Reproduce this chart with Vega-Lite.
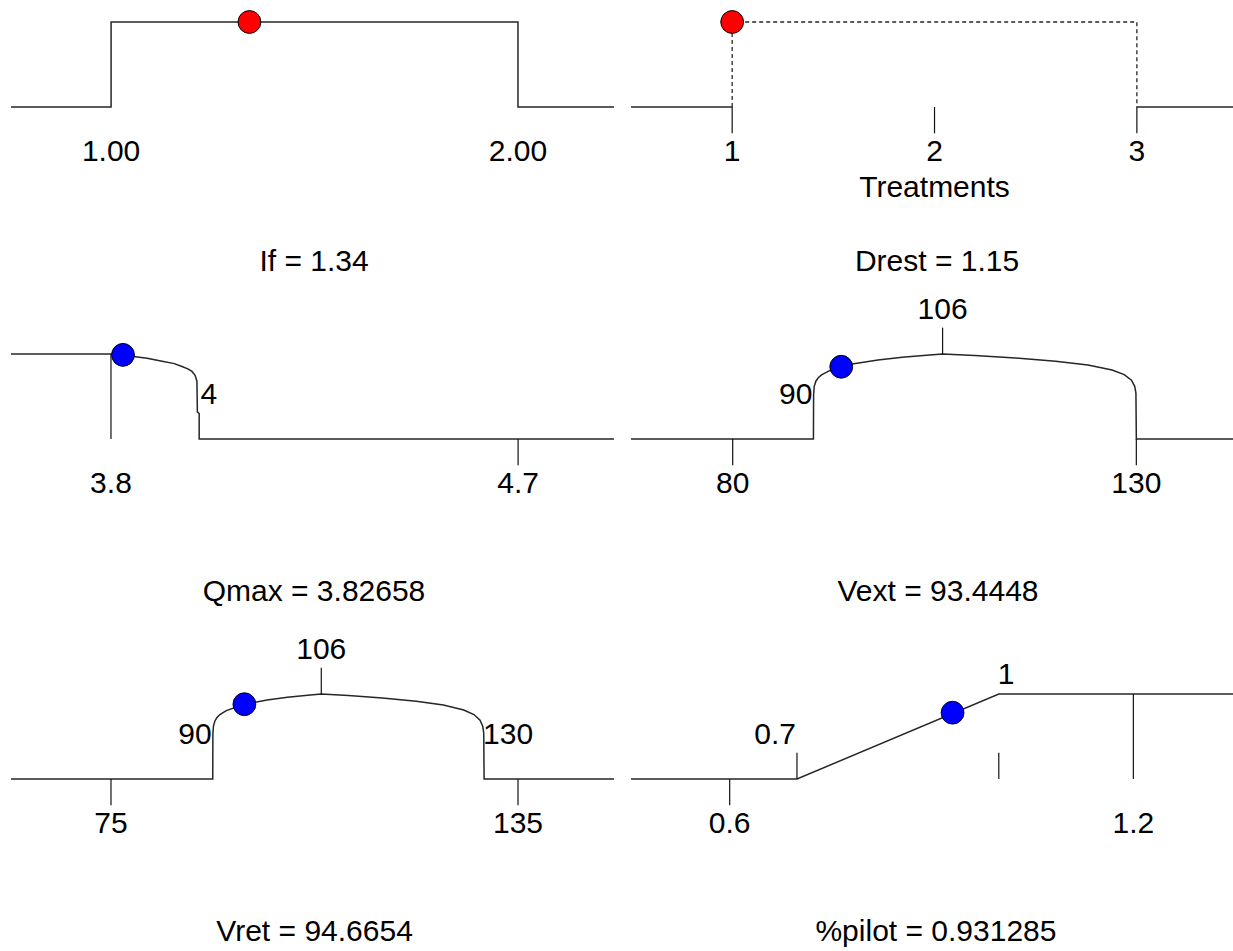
{
  "$schema": "https://vega.github.io/schema/vega-lite/v6.json",
  "padding": {"left": 8, "top": 0, "right": 0, "bottom": 0},
  "background": "white",
  "config": {
    "view": {"stroke": null},
    "axis": {"disable": true},
    "text": {"font": "Liberation Sans", "fontSize": 30, "color": "black", "baseline": "alphabetic"},
    "line": {"stroke": "#262626", "strokeWidth": 1.5},
    "rule": {"stroke": "#111111", "strokeWidth": 1.2}
  },
  "spacing": 0,
  "vconcat": [
    {
      "spacing": 17,
      "bounds": "flush",
      "hconcat": [
        {
          "width": 603, "height": 285,
          "data": {"values": [
            {"k": "line", "seg": "a", "i": 1, "x": 0.754, "d": 0},
            {"k": "line", "seg": "a", "i": 2, "x": 1, "d": 0},
            {"k": "line", "seg": "a", "i": 3, "x": 1, "d": 1},
            {"k": "line", "seg": "a", "i": 4, "x": 2, "d": 1},
            {"k": "line", "seg": "a", "i": 5, "x": 2, "d": 0},
            {"k": "line", "seg": "a", "i": 6, "x": 2.236, "d": 0},
            {"k": "point", "x": 1.34, "d": 1, "vt": "factor"},
            {"k": "below", "x": 1, "label": "1.00"},
            {"k": "below", "x": 2, "label": "2.00"},
            {"k": "title", "label": "If = 1.34"}
          ]},
          "layer": [
            {"transform": [{"filter": "datum.k === 'line'"}], "mark": {"type": "line"},
             "encoding": {"x": {"field": "x", "type": "quantitative", "axis": null, "scale": {"domain": [0.754, 2.236], "nice": false, "zero": false}},
                          "y": {"field": "d", "type": "quantitative", "axis": null, "scale": {"domain": [-2.0941, 1.2588], "nice": false, "zero": false}}, "detail": {"field": "seg"}, "order": {"field": "i", "type": "quantitative"}}},
            {"transform": [{"filter": "datum.k === 'below'"}], "mark": {"type": "text", "align": "center"},
             "encoding": {"x": {"field": "x", "type": "quantitative", "axis": null}, "y": {"datum": -0.64, "axis": null}, "text": {"field": "label"}}},
            {"transform": [{"filter": "datum.k === 'title'"}], "mark": {"type": "text", "align": "center"},
             "encoding": {"x": {"datum": 1.4987, "axis": null}, "y": {"datum": -1.93, "axis": null}, "text": {"field": "label"}}},
            {"transform": [{"filter": "datum.k === 'point'"}], "mark": {"type": "point", "shape": "circle", "filled": true, "size": 520, "stroke": "black", "strokeWidth": 1, "opacity": 1},
             "encoding": {"x": {"field": "x", "type": "quantitative", "axis": null}, "y": {"field": "d", "type": "quantitative", "axis": null}, "fill": {"field": "vt", "type": "nominal", "scale": {"domain": ["factor", "response"], "range": ["#ff0000", "#0000ff"]}, "legend": null}}}
          ]
        },
        {
          "width": 603, "height": 285,
          "data": {"values": [
            {"k": "line", "seg": "a", "i": 1, "x": 0.5, "d": 0},
            {"k": "line", "seg": "a", "i": 2, "x": 1, "d": 0},
            {"k": "line", "seg": "b", "i": 1, "x": 3, "d": 0},
            {"k": "line", "seg": "b", "i": 2, "x": 3.48, "d": 0},
            {"k": "dash", "seg": "c", "i": 1, "x": 1, "d": 0},
            {"k": "dash", "seg": "c", "i": 2, "x": 1, "d": 1},
            {"k": "dash", "seg": "c", "i": 3, "x": 3, "d": 1},
            {"k": "dash", "seg": "c", "i": 4, "x": 3, "d": 0},
            {"k": "tick_down", "x": 1},
            {"k": "tick_down", "x": 2},
            {"k": "tick_down", "x": 3},
            {"k": "below", "x": 1, "label": "1"},
            {"k": "below", "x": 2, "label": "2"},
            {"k": "below", "x": 3, "label": "3"},
            {"k": "xlab", "x": 2, "label": "Treatments"},
            {"k": "point", "x": 1, "d": 1, "vt": "factor"},
            {"k": "title", "label": "Drest = 1.15"}
          ]},
          "layer": [
            {"transform": [{"filter": "datum.k === 'line'"}], "mark": {"type": "line"},
             "encoding": {"x": {"field": "x", "type": "quantitative", "axis": null, "scale": {"domain": [0.5, 3.48], "nice": false, "zero": false}},
                          "y": {"field": "d", "type": "quantitative", "axis": null, "scale": {"domain": [-2.0941, 1.2588], "nice": false, "zero": false}}, "detail": {"field": "seg"}, "order": {"field": "i", "type": "quantitative"}}},
            {"transform": [{"filter": "datum.k === 'dash'"}], "mark": {"type": "line", "strokeWidth": 1.3, "strokeDash": [4, 3]},
             "encoding": {"x": {"field": "x", "type": "quantitative", "axis": null}, "y": {"field": "d", "type": "quantitative", "axis": null}, "detail": {"field": "seg"}, "order": {"field": "i", "type": "quantitative"}}},
            {"transform": [{"filter": "datum.k === 'tick_down'"}], "mark": {"type": "rule"},
             "encoding": {"x": {"field": "x", "type": "quantitative", "axis": null}, "y": {"datum": 0, "axis": null}, "y2": {"datum": -0.31}}},
            {"transform": [{"filter": "datum.k === 'below'"}], "mark": {"type": "text", "align": "center"},
             "encoding": {"x": {"field": "x", "type": "quantitative", "axis": null}, "y": {"datum": -0.64, "axis": null}, "text": {"field": "label"}}},
            {"transform": [{"filter": "datum.k === 'xlab'"}], "mark": {"type": "text", "align": "center"},
             "encoding": {"x": {"field": "x", "type": "quantitative", "axis": null}, "y": {"datum": -1.06, "axis": null}, "text": {"field": "label"}}},
            {"transform": [{"filter": "datum.k === 'title'"}], "mark": {"type": "text", "align": "center"},
             "encoding": {"x": {"datum": 2.0126, "axis": null}, "y": {"datum": -1.93, "axis": null}, "text": {"field": "label"}}},
            {"transform": [{"filter": "datum.k === 'point'"}], "mark": {"type": "point", "shape": "circle", "filled": true, "size": 520, "stroke": "black", "strokeWidth": 1, "opacity": 1},
             "encoding": {"x": {"field": "x", "type": "quantitative", "axis": null}, "y": {"field": "d", "type": "quantitative", "axis": null}, "fill": {"field": "vt", "type": "nominal", "scale": {"domain": ["factor", "response"], "range": ["#ff0000", "#0000ff"]}, "legend": null}}}
          ]
        }
      ]
    },
    {
      "spacing": 17,
      "bounds": "flush",
      "hconcat": [
        {
          "width": 603, "height": 335,
          "data": {"values": [
            {"k": "line", "seg": "a", "i": 1, "x": 3.579, "d": 1},
            {"k": "line", "seg": "a", "i": 2, "x": 3.8, "d": 1},
            {"k": "line", "seg": "a", "i": 3, "x": 3.826, "d": 0.986},
            {"k": "line", "seg": "a", "i": 4, "x": 3.854, "d": 0.968},
            {"k": "line", "seg": "a", "i": 5, "x": 3.88, "d": 0.95},
            {"k": "line", "seg": "a", "i": 6, "x": 3.913, "d": 0.915},
            {"k": "line", "seg": "a", "i": 7, "x": 3.94, "d": 0.887},
            {"k": "line", "seg": "a", "i": 8, "x": 3.957, "d": 0.853},
            {"k": "line", "seg": "a", "i": 9, "x": 3.97, "d": 0.825},
            {"k": "line", "seg": "a", "i": 10, "x": 3.979, "d": 0.795},
            {"k": "line", "seg": "a", "i": 11, "x": 3.986, "d": 0.75},
            {"k": "line", "seg": "a", "i": 12, "x": 3.99, "d": 0.68},
            {"k": "line", "seg": "a", "i": 13, "x": 3.991, "d": 0.32},
            {"k": "line", "seg": "a", "i": 14, "x": 3.995, "d": 0.3},
            {"k": "line", "seg": "a", "i": 15, "x": 3.995, "d": 0},
            {"k": "line", "seg": "a", "i": 16, "x": 4.912, "d": 0},
            {"k": "tick_full", "x": 3.8},
            {"k": "tick_down", "x": 4.7},
            {"k": "below", "x": 3.8, "label": "3.8"},
            {"k": "below", "x": 4.7, "label": "4.7"},
            {"k": "right", "x": 4, "label": "4"},
            {"k": "point", "x": 3.82658, "d": 0.99, "vt": "response"},
            {"k": "title", "label": "Qmax = 3.82658"}
          ]},
          "layer": [
            {"transform": [{"filter": "datum.k === 'line'"}], "mark": {"type": "line"},
             "encoding": {"x": {"field": "x", "type": "quantitative", "axis": null, "scale": {"domain": [3.579, 4.912], "nice": false, "zero": false}},
                          "y": {"field": "d", "type": "quantitative", "axis": null, "scale": {"domain": [-2.1294, 1.8118], "nice": false, "zero": false}}, "detail": {"field": "seg"}, "order": {"field": "i", "type": "quantitative"}}},
            {"transform": [{"filter": "datum.k === 'tick_full'"}], "mark": {"type": "rule"},
             "encoding": {"x": {"field": "x", "type": "quantitative", "axis": null}, "y": {"datum": 1, "axis": null}, "y2": {"datum": 0}}},
            {"transform": [{"filter": "datum.k === 'tick_down'"}], "mark": {"type": "rule"},
             "encoding": {"x": {"field": "x", "type": "quantitative", "axis": null}, "y": {"datum": 0, "axis": null}, "y2": {"datum": -0.31}}},
            {"transform": [{"filter": "datum.k === 'below'"}], "mark": {"type": "text", "align": "center"},
             "encoding": {"x": {"field": "x", "type": "quantitative", "axis": null}, "y": {"datum": -0.64, "axis": null}, "text": {"field": "label"}}},
            {"transform": [{"filter": "datum.k === 'right'"}], "mark": {"type": "text", "align": "left", "dx": -1},
             "encoding": {"x": {"field": "x", "type": "quantitative", "axis": null}, "y": {"datum": 0.41, "axis": null}, "text": {"field": "label"}}},
            {"transform": [{"filter": "datum.k === 'title'"}], "mark": {"type": "text", "align": "center"},
             "encoding": {"x": {"datum": 4.2488, "axis": null}, "y": {"datum": -1.91, "axis": null}, "text": {"field": "label"}}},
            {"transform": [{"filter": "datum.k === 'point'"}], "mark": {"type": "point", "shape": "circle", "filled": true, "size": 520, "stroke": "black", "strokeWidth": 1, "opacity": 1},
             "encoding": {"x": {"field": "x", "type": "quantitative", "axis": null}, "y": {"field": "d", "type": "quantitative", "axis": null}, "fill": {"field": "vt", "type": "nominal", "scale": {"domain": ["factor", "response"], "range": ["#ff0000", "#0000ff"]}, "legend": null}}}
          ]
        },
        {
          "width": 603, "height": 335,
          "data": {"values": [
            {"k": "line", "seg": "a", "i": 1, "x": 67.4, "d": 0},
            {"k": "line", "seg": "a", "i": 2, "x": 90, "d": 0},
            {"k": "line", "seg": "a", "i": 3, "x": 90.02, "d": 0.52},
            {"k": "line", "seg": "a", "i": 4, "x": 90.1, "d": 0.62},
            {"k": "line", "seg": "a", "i": 5, "x": 90.3, "d": 0.68},
            {"k": "line", "seg": "a", "i": 6, "x": 90.6, "d": 0.72},
            {"k": "line", "seg": "a", "i": 7, "x": 91, "d": 0.755},
            {"k": "line", "seg": "a", "i": 8, "x": 92, "d": 0.805},
            {"k": "line", "seg": "a", "i": 9, "x": 93.4448, "d": 0.85},
            {"k": "line", "seg": "a", "i": 10, "x": 95, "d": 0.885},
            {"k": "line", "seg": "a", "i": 11, "x": 98, "d": 0.93},
            {"k": "line", "seg": "a", "i": 12, "x": 101, "d": 0.962},
            {"k": "line", "seg": "a", "i": 13, "x": 104, "d": 0.986},
            {"k": "line", "seg": "a", "i": 14, "x": 106, "d": 1},
            {"k": "line", "seg": "a", "i": 15, "x": 110, "d": 0.982},
            {"k": "line", "seg": "a", "i": 16, "x": 115, "d": 0.954},
            {"k": "line", "seg": "a", "i": 17, "x": 120, "d": 0.916},
            {"k": "line", "seg": "a", "i": 18, "x": 124, "d": 0.871},
            {"k": "line", "seg": "a", "i": 19, "x": 127, "d": 0.812},
            {"k": "line", "seg": "a", "i": 20, "x": 128.5, "d": 0.758},
            {"k": "line", "seg": "a", "i": 21, "x": 129.4, "d": 0.692},
            {"k": "line", "seg": "a", "i": 22, "x": 129.8, "d": 0.62},
            {"k": "line", "seg": "a", "i": 23, "x": 129.95, "d": 0.54},
            {"k": "line", "seg": "a", "i": 24, "x": 130, "d": 0},
            {"k": "line", "seg": "a", "i": 25, "x": 142.1, "d": 0},
            {"k": "tick_down", "x": 80},
            {"k": "tick_top", "x": 106},
            {"k": "tick_down", "x": 130},
            {"k": "below", "x": 80, "label": "80"},
            {"k": "below", "x": 130, "label": "130"},
            {"k": "left", "x": 90, "label": "90"},
            {"k": "top", "x": 106, "label": "106"},
            {"k": "point", "x": 93.4448, "d": 0.85, "vt": "response"},
            {"k": "title", "label": "Vext = 93.4448"}
          ]},
          "layer": [
            {"transform": [{"filter": "datum.k === 'line'"}], "mark": {"type": "line"},
             "encoding": {"x": {"field": "x", "type": "quantitative", "axis": null, "scale": {"domain": [67.4, 142.1], "nice": false, "zero": false}},
                          "y": {"field": "d", "type": "quantitative", "axis": null, "scale": {"domain": [-2.1294, 1.8118], "nice": false, "zero": false}}, "detail": {"field": "seg"}, "order": {"field": "i", "type": "quantitative"}}},
            {"transform": [{"filter": "datum.k === 'tick_down'"}], "mark": {"type": "rule"},
             "encoding": {"x": {"field": "x", "type": "quantitative", "axis": null}, "y": {"datum": 0, "axis": null}, "y2": {"datum": -0.31}}},
            {"transform": [{"filter": "datum.k === 'tick_top'"}], "mark": {"type": "rule"},
             "encoding": {"x": {"field": "x", "type": "quantitative", "axis": null}, "y": {"datum": 1, "axis": null}, "y2": {"datum": 1.31}}},
            {"transform": [{"filter": "datum.k === 'below'"}], "mark": {"type": "text", "align": "center"},
             "encoding": {"x": {"field": "x", "type": "quantitative", "axis": null}, "y": {"datum": -0.64, "axis": null}, "text": {"field": "label"}}},
            {"transform": [{"filter": "datum.k === 'left'"}], "mark": {"type": "text", "align": "right", "dx": -1},
             "encoding": {"x": {"field": "x", "type": "quantitative", "axis": null}, "y": {"datum": 0.41, "axis": null}, "text": {"field": "label"}}},
            {"transform": [{"filter": "datum.k === 'top'"}], "mark": {"type": "text", "align": "center"},
             "encoding": {"x": {"field": "x", "type": "quantitative", "axis": null}, "y": {"datum": 1.41, "axis": null}, "text": {"field": "label"}}},
            {"transform": [{"filter": "datum.k === 'title'"}], "mark": {"type": "text", "align": "center"},
             "encoding": {"x": {"datum": 105.43, "axis": null}, "y": {"datum": -1.91, "axis": null}, "text": {"field": "label"}}},
            {"transform": [{"filter": "datum.k === 'point'"}], "mark": {"type": "point", "shape": "circle", "filled": true, "size": 520, "stroke": "black", "strokeWidth": 1, "opacity": 1},
             "encoding": {"x": {"field": "x", "type": "quantitative", "axis": null}, "y": {"field": "d", "type": "quantitative", "axis": null}, "fill": {"field": "vt", "type": "nominal", "scale": {"domain": ["factor", "response"], "range": ["#ff0000", "#0000ff"]}, "legend": null}}}
          ]
        }
      ]
    },
    {
      "spacing": 17,
      "bounds": "flush",
      "hconcat": [
        {
          "width": 603, "height": 331,
          "data": {"values": [
            {"k": "line", "seg": "a", "i": 1, "x": 60.26, "d": 0},
            {"k": "line", "seg": "a", "i": 2, "x": 90, "d": 0},
            {"k": "line", "seg": "a", "i": 3, "x": 90.02, "d": 0.52},
            {"k": "line", "seg": "a", "i": 4, "x": 90.1, "d": 0.62},
            {"k": "line", "seg": "a", "i": 5, "x": 90.3, "d": 0.68},
            {"k": "line", "seg": "a", "i": 6, "x": 90.6, "d": 0.72},
            {"k": "line", "seg": "a", "i": 7, "x": 91, "d": 0.755},
            {"k": "line", "seg": "a", "i": 8, "x": 92, "d": 0.805},
            {"k": "line", "seg": "a", "i": 9, "x": 94.6654, "d": 0.88},
            {"k": "line", "seg": "a", "i": 10, "x": 98, "d": 0.93},
            {"k": "line", "seg": "a", "i": 11, "x": 101, "d": 0.962},
            {"k": "line", "seg": "a", "i": 12, "x": 104, "d": 0.986},
            {"k": "line", "seg": "a", "i": 13, "x": 106, "d": 1},
            {"k": "line", "seg": "a", "i": 14, "x": 110, "d": 0.982},
            {"k": "line", "seg": "a", "i": 15, "x": 115, "d": 0.954},
            {"k": "line", "seg": "a", "i": 16, "x": 120, "d": 0.916},
            {"k": "line", "seg": "a", "i": 17, "x": 124, "d": 0.871},
            {"k": "line", "seg": "a", "i": 18, "x": 127, "d": 0.812},
            {"k": "line", "seg": "a", "i": 19, "x": 128.5, "d": 0.758},
            {"k": "line", "seg": "a", "i": 20, "x": 129.4, "d": 0.692},
            {"k": "line", "seg": "a", "i": 21, "x": 129.8, "d": 0.62},
            {"k": "line", "seg": "a", "i": 22, "x": 129.95, "d": 0.54},
            {"k": "line", "seg": "a", "i": 23, "x": 130, "d": 0},
            {"k": "line", "seg": "a", "i": 24, "x": 149.15, "d": 0},
            {"k": "tick_down", "x": 75},
            {"k": "tick_top", "x": 106},
            {"k": "tick_down", "x": 135},
            {"k": "below", "x": 75, "label": "75"},
            {"k": "below", "x": 135, "label": "135"},
            {"k": "left", "x": 90, "label": "90"},
            {"k": "right", "x": 130, "label": "130"},
            {"k": "top", "x": 106, "label": "106"},
            {"k": "point", "x": 94.6654, "d": 0.88, "vt": "response"},
            {"k": "title", "label": "Vret = 94.6654"}
          ]},
          "layer": [
            {"transform": [{"filter": "datum.k === 'line'"}], "mark": {"type": "line"},
             "encoding": {"x": {"field": "x", "type": "quantitative", "axis": null, "scale": {"domain": [60.26, 149.15], "nice": false, "zero": false}},
                          "y": {"field": "d", "type": "quantitative", "axis": null, "scale": {"domain": [-2.0235, 1.8706], "nice": false, "zero": false}}, "detail": {"field": "seg"}, "order": {"field": "i", "type": "quantitative"}}},
            {"transform": [{"filter": "datum.k === 'tick_down'"}], "mark": {"type": "rule"},
             "encoding": {"x": {"field": "x", "type": "quantitative", "axis": null}, "y": {"datum": 0, "axis": null}, "y2": {"datum": -0.31}}},
            {"transform": [{"filter": "datum.k === 'tick_top'"}], "mark": {"type": "rule"},
             "encoding": {"x": {"field": "x", "type": "quantitative", "axis": null}, "y": {"datum": 1, "axis": null}, "y2": {"datum": 1.31}}},
            {"transform": [{"filter": "datum.k === 'below'"}], "mark": {"type": "text", "align": "center"},
             "encoding": {"x": {"field": "x", "type": "quantitative", "axis": null}, "y": {"datum": -0.64, "axis": null}, "text": {"field": "label"}}},
            {"transform": [{"filter": "datum.k === 'left'"}], "mark": {"type": "text", "align": "right", "dx": -1},
             "encoding": {"x": {"field": "x", "type": "quantitative", "axis": null}, "y": {"datum": 0.41, "axis": null}, "text": {"field": "label"}}},
            {"transform": [{"filter": "datum.k === 'right'"}], "mark": {"type": "text", "align": "left", "dx": -1},
             "encoding": {"x": {"field": "x", "type": "quantitative", "axis": null}, "y": {"datum": 0.41, "axis": null}, "text": {"field": "label"}}},
            {"transform": [{"filter": "datum.k === 'top'"}], "mark": {"type": "text", "align": "center"},
             "encoding": {"x": {"field": "x", "type": "quantitative", "axis": null}, "y": {"datum": 1.41, "axis": null}, "text": {"field": "label"}}},
            {"transform": [{"filter": "datum.k === 'title'"}], "mark": {"type": "text", "align": "center"},
             "encoding": {"x": {"datum": 105.01, "axis": null}, "y": {"datum": -1.91, "axis": null}, "text": {"field": "label"}}},
            {"transform": [{"filter": "datum.k === 'point'"}], "mark": {"type": "point", "shape": "circle", "filled": true, "size": 520, "stroke": "black", "strokeWidth": 1, "opacity": 1},
             "encoding": {"x": {"field": "x", "type": "quantitative", "axis": null}, "y": {"field": "d", "type": "quantitative", "axis": null}, "fill": {"field": "vt", "type": "nominal", "scale": {"domain": ["factor", "response"], "range": ["#ff0000", "#0000ff"]}, "legend": null}}}
          ]
        },
        {
          "width": 603, "height": 331,
          "data": {"values": [
            {"k": "line", "seg": "a", "i": 1, "x": 0.4533, "d": 0},
            {"k": "line", "seg": "a", "i": 2, "x": 0.7, "d": 0},
            {"k": "line", "seg": "a", "i": 3, "x": 1, "d": 1},
            {"k": "line", "seg": "a", "i": 4, "x": 1.3496, "d": 1},
            {"k": "tick_down", "x": 0.6},
            {"k": "tick_up", "x": 0.7},
            {"k": "tick_up", "x": 1},
            {"k": "tick_full", "x": 1.2},
            {"k": "below", "x": 0.6, "label": "0.6"},
            {"k": "below", "x": 1.2, "label": "1.2"},
            {"k": "left", "x": 0.7, "label": "0.7"},
            {"k": "topright", "x": 1, "label": "1"},
            {"k": "point", "x": 0.931285, "d": 0.78, "vt": "response"},
            {"k": "title", "label": "%pilot = 0.931285"}
          ]},
          "layer": [
            {"transform": [{"filter": "datum.k === 'line'"}], "mark": {"type": "line"},
             "encoding": {"x": {"field": "x", "type": "quantitative", "axis": null, "scale": {"domain": [0.4533, 1.3496], "nice": false, "zero": false}},
                          "y": {"field": "d", "type": "quantitative", "axis": null, "scale": {"domain": [-2.0235, 1.8706], "nice": false, "zero": false}}, "detail": {"field": "seg"}, "order": {"field": "i", "type": "quantitative"}}},
            {"transform": [{"filter": "datum.k === 'tick_down'"}], "mark": {"type": "rule"},
             "encoding": {"x": {"field": "x", "type": "quantitative", "axis": null}, "y": {"datum": 0, "axis": null}, "y2": {"datum": -0.31}}},
            {"transform": [{"filter": "datum.k === 'tick_up'"}], "mark": {"type": "rule"},
             "encoding": {"x": {"field": "x", "type": "quantitative", "axis": null}, "y": {"datum": 0, "axis": null}, "y2": {"datum": 0.31}}},
            {"transform": [{"filter": "datum.k === 'tick_full'"}], "mark": {"type": "rule"},
             "encoding": {"x": {"field": "x", "type": "quantitative", "axis": null}, "y": {"datum": 1, "axis": null}, "y2": {"datum": 0}}},
            {"transform": [{"filter": "datum.k === 'below'"}], "mark": {"type": "text", "align": "center"},
             "encoding": {"x": {"field": "x", "type": "quantitative", "axis": null}, "y": {"datum": -0.64, "axis": null}, "text": {"field": "label"}}},
            {"transform": [{"filter": "datum.k === 'left'"}], "mark": {"type": "text", "align": "right", "dx": -1},
             "encoding": {"x": {"field": "x", "type": "quantitative", "axis": null}, "y": {"datum": 0.41, "axis": null}, "text": {"field": "label"}}},
            {"transform": [{"filter": "datum.k === 'topright'"}], "mark": {"type": "text", "align": "left", "dx": -1},
             "encoding": {"x": {"field": "x", "type": "quantitative", "axis": null}, "y": {"datum": 1.12, "axis": null}, "text": {"field": "label"}}},
            {"transform": [{"filter": "datum.k === 'title'"}], "mark": {"type": "text", "align": "center"},
             "encoding": {"x": {"datum": 0.9066, "axis": null}, "y": {"datum": -1.91, "axis": null}, "text": {"field": "label"}}},
            {"transform": [{"filter": "datum.k === 'point'"}], "mark": {"type": "point", "shape": "circle", "filled": true, "size": 520, "stroke": "black", "strokeWidth": 1, "opacity": 1},
             "encoding": {"x": {"field": "x", "type": "quantitative", "axis": null}, "y": {"field": "d", "type": "quantitative", "axis": null}, "fill": {"field": "vt", "type": "nominal", "scale": {"domain": ["factor", "response"], "range": ["#ff0000", "#0000ff"]}, "legend": null}}}
          ]
        }
      ]
    }
  ]
}
